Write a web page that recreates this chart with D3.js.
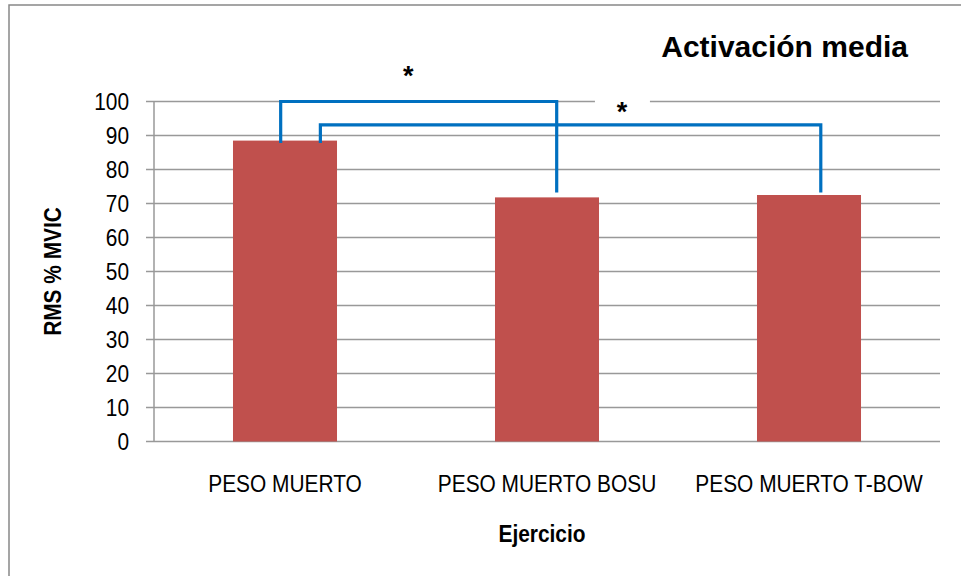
<!DOCTYPE html>
<html><head><meta charset="utf-8">
<script src="https://cdn.jsdelivr.net/npm/d3@7"></script>
<style>
html,body{margin:0;padding:0;background:#fff;}
svg text{font-family:"Liberation Sans",Arial,sans-serif;fill:#000;}
</style></head><body>
<script>
const categories = ["PESO MUERTO","PESO MUERTO BOSU","PESO MUERTO T-BOW"];
const values = [88.5, 71.8, 72.5];
const yTicks = [0,10,20,30,40,50,60,70,80,90,100];
// significance brackets (values in data units)
const bracketFrom = [0, 0];
const bracketTo = [1, 2];
const bracketLevel = [100, 93.1];
const bracketFromEnd = [87.8, 87.8];
const bracketToEnd = [73.2, 73.2];
const starLabels = ["*", "*"];
const starLevel = [109.9, 99.1];

const W=961,H=576;
const NARROW=0.87;
const svg=d3.select("body").append("svg").attr("width",W).attr("height",H);
svg.append("rect").attr("x",9).attr("y",5).attr("width",W).attr("height",H).attr("fill","#fff").attr("stroke","#888").attr("stroke-width",1.5);

const m={l:154,r:940,t:101.5,b:441.5};
const x=d3.scaleBand().domain(d3.range(categories.length)).range([m.l,m.r]).paddingInner(0.603).paddingOuter(0.3015);
const y=d3.scaleLinear().domain([0,100]).range([m.b,m.t]);
const step=x.step();
const cx=i=>x(i)+x.bandwidth()/2;

function ntext(sel, tx, ty, size, anchor, bold, txt, rot){
  const t = sel.append("text")
    .attr("transform",`translate(${tx},${ty})${rot?` rotate(${rot})`:""} scale(${NARROW},1)`)
    .attr("text-anchor",anchor).style("font-size",size+"px").text(txt);
  if(bold) t.style("font-weight","bold");
  return t;
}

// gridlines
svg.append("g").selectAll("line").data(yTicks).join("line")
  .attr("x1",146).attr("x2",m.r).attr("y1",d=>y(d)).attr("y2",d=>y(d))
  .attr("stroke","#999").attr("stroke-width",1.5);
svg.append("line").attr("x1",m.l).attr("x2",m.l).attr("y1",y(100)).attr("y2",y(0)).attr("stroke","#999").attr("stroke-width",1.5);

// tick labels
const tg=svg.append("g");
yTicks.forEach(d=>ntext(tg,129,y(d)+8.5,24,"end",false,d));

// bars
svg.append("g").selectAll("rect").data(values).join("rect")
  .attr("x",(d,i)=>x(i)).attr("width",x.bandwidth())
  .attr("y",d=>y(d)).attr("height",d=>y(0)-y(d))
  .attr("fill","#C0504D");

// brackets: legs sit slightly left/right of bar centres
const legShiftFrom = [-0.0165, 0.135];
const legShiftTo = [0.037, 0.045];
const bl=svg.append("g");
bracketFrom.forEach((f,k)=>{
  const x1=cx(f)+legShiftFrom[k]*step, x2=cx(bracketTo[k])+legShiftTo[k]*step;
  bl.append("path").attr("d",`M${x1},${y(bracketFromEnd[k])}V${y(bracketLevel[k])}H${x2}V${y(bracketToEnd[k])}`)
    .attr("fill","none").attr("stroke","#0070C0").attr("stroke-width",3.2);
});

// stars (text boxes with white fill)
const starPos = [0.97, 1.786];
starLabels.forEach((s,k)=>{
  const sx=m.l+starPos[k]*step, sy=y(starLevel[k]);
  if(k===1) svg.append("rect").attr("x",sx-27).attr("y",sy-7).attr("width",55).attr("height",12).attr("fill","#fff");
  svg.append("text").attr("x",sx).attr("y",sy).attr("dy","0.62em").attr("text-anchor","middle")
    .style("font-size","27px").style("font-weight","bold").text(s);
});

// category labels
const cg=svg.append("g");
categories.forEach((c,i)=>ntext(cg,cx(i),491.5,24,"middle",false,c));

// axis titles
ntext(svg,(m.l+m.r)/2-5,541.5,24,"middle",true,"Ejercicio");
ntext(svg,61,(m.t+m.b)/2,24,"middle",true,"RMS % MVIC",-90);
svg.append("text").attr("x",908).attr("y",57).attr("text-anchor","end")
  .style("font-size","30px").style("font-weight","bold").text("Activación media");
</script>
</body></html>
